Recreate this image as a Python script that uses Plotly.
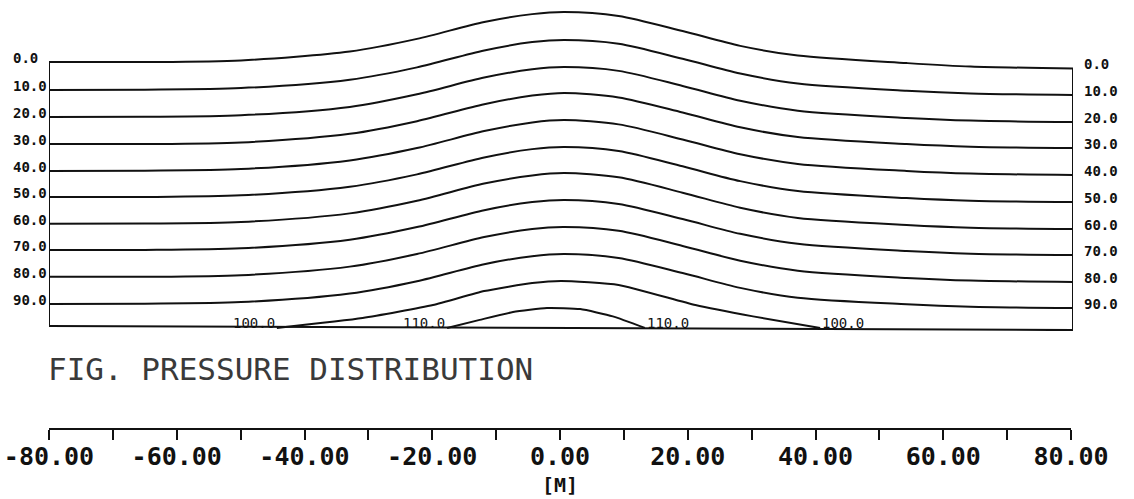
import plotly.graph_objects as go

# ---------------- data ----------------
# horizontal positions [m] of the sample points along each iso-pressure line
X = [-80, -65, -50, -33, -22.5, -12, -4.5, 0.5, 9, 19, 28, 37, 54, 64, 80]

# depth of each iso-pressure line at the sample points
C0 = [0.0, 0.0, -0.6, -3.9, -8.6, -14.9, -17.8, -18.6, -17.1, -11.5, -6.0, -2.4, 0.4, 1.7, 2.4]
C10 = [10.4, 10.3, 9.7, 6.6, 2.0, -4.3, -7.4, -8.2, -6.8, -1.2, 4.3, 8.0, 10.7, 11.7, 12.3]
C20 = [20.5, 20.4, 19.8, 16.7, 12.0, 5.8, 2.7, 1.9, 3.3, 8.9, 14.4, 18.1, 20.8, 21.8, 22.3]
C30 = [30.5, 30.5, 29.9, 26.7, 22.0, 15.7, 12.5, 11.5, 13.2, 18.8, 24.3, 27.9, 30.5, 31.5, 32.0]
C40 = [40.5, 40.4, 39.8, 36.6, 32.0, 25.7, 22.5, 21.6, 23.2, 28.8, 34.3, 37.9, 40.5, 41.5, 42.0]
C50 = [50.2, 50.2, 49.6, 46.4, 41.8, 35.5, 32.4, 31.6, 33.1, 38.8, 44.3, 48.0, 50.6, 51.6, 52.1]
C60 = [60.2, 60.1, 59.5, 56.3, 51.6, 45.2, 42.2, 41.3, 42.9, 48.6, 54.2, 58.0, 60.6, 61.6, 62.1]
C70 = [69.9, 69.9, 69.3, 66.1, 61.4, 55.1, 52.1, 51.3, 52.8, 58.4, 63.9, 67.6, 70.3, 71.3, 71.8]
C80 = [79.9, 79.9, 79.3, 76.1, 71.4, 65.1, 62.1, 61.4, 62.8, 68.4, 73.9, 77.6, 80.3, 81.3, 81.8]
C90 = [90.0, 89.9, 89.3, 86.1, 81.5, 75.2, 72.2, 71.4, 72.9, 78.5, 84.0, 87.7, 90.1, 91.0, 91.5]
CONTOURS = [C0, C10, C20, C30, C40, C50, C60, C70, C80, C90]
LEVEL_LABELS = ["0.0", "10.0", "20.0", "30.0", "40.0", "50.0", "60.0", "70.0", "80.0", "90.0"]

# the two deepest lines only show where they rise above the bottom
X100 = [-44.4, -31, -20, -12, -4.5, 0, 9, 21, 30, 40.5]
Y100 = [98.9, 95.2, 90.4, 85.2, 82.2, 81.4, 82.9, 90.4, 94.6, 98.9]
X110 = [-17.8, -12.7, -7.5, -2.2, 3.0, 8.1, 13.1]
Y110 = [98.9, 95.9, 93.0, 91.5, 91.9, 94.6, 98.9]
BOTTOM_LABELS = ["100.0", "110.0", "110.0", "100.0"]

# bottom edge of the frame (depth at left and right)
FRAME_BOTTOM = [98.2, 99.7]

AXIS_TICKS = list(range(-80, 81, 10))
AXIS_LABELS = ["-80.00", "", "-60.00", "", "-40.00", "", "-20.00", "", "0.00",
               "", "20.00", "", "40.00", "", "60.00", "", "80.00"]

TITLE = "FIG. PRESSURE DISTRIBUTION"
UNIT = "[M]"

# ---------------- figure ----------------
W, H = 1134, 499
INK = "#111111"
MONO = "DejaVu Sans Mono"

fig = go.Figure()
line = dict(color=INK, width=2, shape="spline", smoothing=0.8)
deep_line = dict(color=INK, width=2, shape="spline", smoothing=0.5)
for ys in CONTOURS:
    fig.add_trace(go.Scatter(x=X, y=ys, mode="lines", line=line, hoverinfo="skip", showlegend=False))
fig.add_trace(go.Scatter(x=X100, y=Y100, mode="lines", line=deep_line, hoverinfo="skip", showlegend=False))
fig.add_trace(go.Scatter(x=X110, y=Y110, mode="lines", line=deep_line, hoverinfo="skip", showlegend=False))

# invisible trace so the scale axis is drawn
fig.add_trace(go.Scatter(x=[AXIS_TICKS[0], AXIS_TICKS[-1]], y=[0, 0], xaxis="x2", yaxis="y2",
                         mode="lines", line=dict(width=0), hoverinfo="skip", showlegend=False))

xmin, xmax = X[0], X[-1]
# frame: left, right and bottom edges
fig.add_shape(type="line", xref="x", yref="y", x0=xmin, x1=xmin, y0=C0[0], y1=FRAME_BOTTOM[0],
              line=dict(color=INK, width=2))
fig.add_shape(type="line", xref="x", yref="y", x0=xmax, x1=xmax, y0=C0[-1], y1=FRAME_BOTTOM[1],
              line=dict(color=INK, width=2))
fig.add_shape(type="line", xref="x", yref="y", x0=xmin, x1=xmax, y0=FRAME_BOTTOM[0], y1=FRAME_BOTTOM[1],
              line=dict(color=INK, width=2))

lab_font = dict(family=MONO, size=14, color=INK, weight="bold")
for ys, lab in zip(CONTOURS, LEVEL_LABELS):
    fig.add_annotation(xref="paper", x=11 / W, y=ys[0], text=lab, showarrow=False, xanchor="left",
                       yanchor="middle", yshift=4, font=lab_font)
    fig.add_annotation(x=xmax, y=ys[-1], text=lab, showarrow=False, xanchor="left", yanchor="middle",
                       xshift=9, yshift=4, font=lab_font)

small_font = dict(family=MONO, size=14, color=INK)
ends = [(X100[0], Y100[0], "right"), (X110[0], Y110[0], "right"),
        (X110[-1], Y110[-1], "left"), (X100[-1], Y100[-1], "left")]
for (ex, ey, anc), lab in zip(ends, BOTTOM_LABELS):
    fig.add_annotation(x=ex, y=ey, text=lab, showarrow=False, xanchor=anc, yanchor="bottom",
                       yshift=-5, font=small_font)

fig.add_annotation(xref="paper", yref="paper", x=46 / W, y=1 - 369 / H, text=TITLE, showarrow=False,
                   xanchor="left", yanchor="middle", font=dict(family=MONO, size=31, color="#3a3a3a"))
fig.add_annotation(xref="x2", yref="paper", x=0, y=1 - 485 / H, text=UNIT, showarrow=False,
                   xanchor="center", yanchor="middle",
                   font=dict(family=MONO, size=20, color=INK, weight="bold"))

fig.update_layout(
    width=W, height=H,
    margin=dict(l=0, r=0, t=0, b=0, autoexpand=False),
    paper_bgcolor="white", plot_bgcolor="white",
    showlegend=False,
    xaxis=dict(domain=[49 / W, 1073 / W], range=[xmin, xmax], visible=False, automargin=False),
    yaxis=dict(domain=[1 - 331 / H, 1 - 8 / H], range=[100.04, -20.08], visible=False, automargin=False),
    xaxis2=dict(domain=[49 / W, 1071 / W], range=[AXIS_TICKS[0], AXIS_TICKS[-1]], anchor="y2",
                showline=True, linecolor=INK, linewidth=2, ticks="outside", ticklen=10, tickwidth=2,
                tickcolor=INK, tickvals=AXIS_TICKS, ticktext=AXIS_LABELS, showgrid=False, zeroline=False,
                automargin=False, ticklabelstandoff=-5,
                tickfont=dict(family=MONO, size=25, color=INK, weight="bold")),
    yaxis2=dict(domain=[1 - 428 / H, 1 - 427 / H], range=[0, 1], visible=False, automargin=False),
)

fig.write_html("out.html", config={"displayModeBar": False},
               post_script="document.body.style.margin='0px';document.body.style.overflow='hidden';")
